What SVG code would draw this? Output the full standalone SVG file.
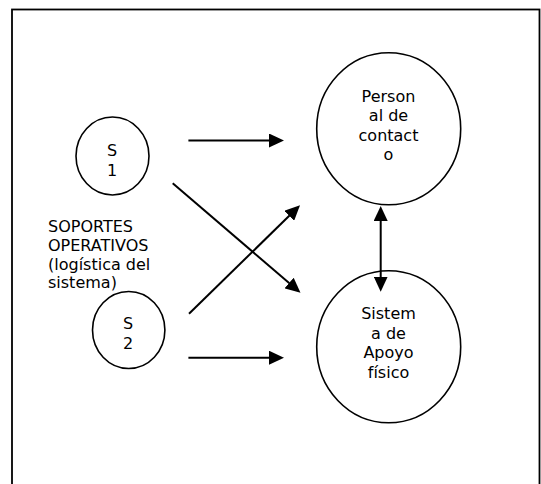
<svg xmlns="http://www.w3.org/2000/svg" width="541" height="484" viewBox="0 0 541 484">
  <style>
    .frame { fill: #ffffff; stroke: #000000; stroke-width: 1.8; }
    .node { fill: #ffffff; stroke: #000000; stroke-width: 1.6; }
    .lbl { font-family: "DejaVu Sans", Verdana, sans-serif; font-size: 16px; fill: #000000; }
    .mid { text-anchor: middle; }
    .edge { stroke: #000000; stroke-width: 2; fill: none; marker-end: url(#arrow); }
    .edge2 { stroke: #000000; stroke-width: 2; fill: none; marker-start: url(#arrow); marker-end: url(#arrow); }
  </style>
  <defs>
    <marker id="arrow" viewBox="0 0 15 14" refX="5" refY="7" markerWidth="15" markerHeight="14" markerUnits="userSpaceOnUse" orient="auto-start-reverse">
      <path d="M0,0 L15,7 L0,14 z" fill="#000000"/>
    </marker>
  </defs>
  <rect x="0" y="0" width="541" height="484" fill="#ffffff"/>
  <rect class="frame" x="12" y="9.5" width="527.5" height="490"/>

  <g id="s1">
    <ellipse class="node" cx="112.5" cy="156" rx="36.5" ry="39"/>
    <text class="lbl mid" x="112" y="155.5">S</text>
    <text class="lbl mid" x="112" y="175.5">1</text>
  </g>

  <g id="s2">
    <ellipse class="node" cx="128.7" cy="330" rx="36.2" ry="38.5"/>
    <text class="lbl mid" x="128" y="329">S</text>
    <text class="lbl mid" x="128" y="348.5">2</text>
  </g>

  <g id="soportes">
    <text class="lbl" x="48" y="232.3">SOPORTES</text>
    <text class="lbl" x="48" y="251">OPERATIVOS</text>
    <text class="lbl" x="48" y="269.5">(logística del</text>
    <text class="lbl" x="48" y="288">sistema)</text>
  </g>

  <g id="personal">
    <ellipse class="node" cx="388.7" cy="128.8" rx="72" ry="76"/>
    <text class="lbl mid" x="388.5" y="101.5">Person</text>
    <text class="lbl mid" x="388.5" y="121">al de</text>
    <text class="lbl mid" x="388.5" y="140.5">contact</text>
    <text class="lbl mid" x="388.5" y="160">o</text>
  </g>

  <g id="sistema">
    <ellipse class="node" cx="388.7" cy="346.7" rx="72" ry="76"/>
    <text class="lbl mid" x="388.5" y="319">Sistem</text>
    <text class="lbl mid" x="388.5" y="338.5">a de</text>
    <text class="lbl mid" x="388.5" y="358">Apoyo</text>
    <text class="lbl mid" x="388.5" y="377.5">físico</text>
  </g>

  <g id="connectors">
    <line class="edge" x1="188.4" y1="140.5" x2="274" y2="140.5"/>
    <line class="edge" x1="188.4" y1="357.7" x2="274" y2="357.7"/>
    <line class="edge" x1="172.7" y1="183.3" x2="292.9" y2="286.3"/>
    <line class="edge" x1="189" y1="313.7" x2="292.85" y2="212.3"/>
    <line class="edge2" x1="380.7" y1="216" x2="380.7" y2="281.7"/>
  </g>
</svg>
